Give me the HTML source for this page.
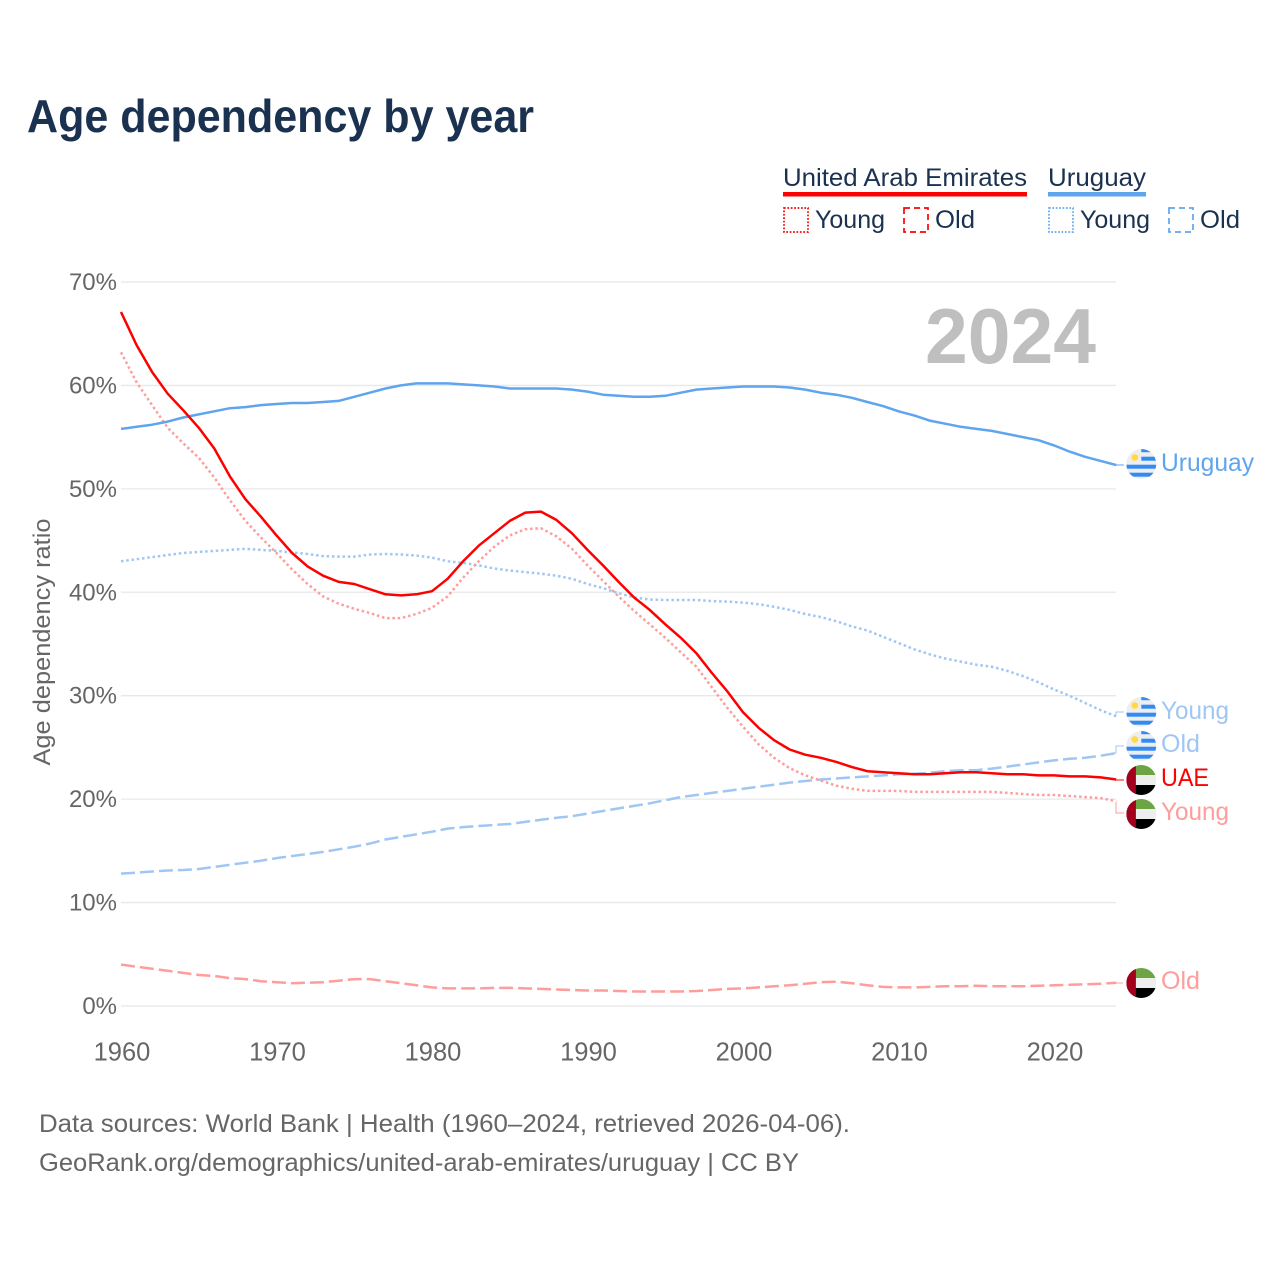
<!DOCTYPE html>
<html lang="en">
<head>
<meta charset="utf-8">
<title>Age dependency by year</title>
<style>
html,body{margin:0;padding:0;background:#fff;width:1280px;height:1280px;overflow:hidden}
svg{display:block;font-family:"Liberation Sans",sans-serif}
.leg{font-size:25px;fill:#1a3150}
.end{font-size:25px}
.cap{font-size:25px;fill:#666}
</style>
</head>
<body>
<svg id="chart" width="1280" height="1280" viewBox="0 0 1280 1280" xmlns="http://www.w3.org/2000/svg">
<defs>
<clipPath id="flag-clip"><circle cx="0" cy="0" r="15"/></clipPath>
<g id="flag-uy">
<g clip-path="url(#flag-clip)">
<rect x="-15" y="-15" width="30" height="30" fill="#eeeeee"/>
<rect x="0" y="-15" width="15" height="3.2" fill="#338af3"/>
<rect x="0" y="-7.3" width="15" height="4" fill="#338af3"/>
<rect x="-15" y="0.7" width="30" height="4" fill="#338af3"/>
<rect x="-15" y="8.7" width="30" height="4" fill="#338af3"/>
<circle cx="-6.5" cy="-6.5" r="3.4" fill="#ffda44"/>
</g>
</g>
<g id="flag-ae">
<g clip-path="url(#flag-clip)">
<rect x="-15" y="-15" width="30" height="10" fill="#6da544"/>
<rect x="-15" y="-5" width="30" height="10" fill="#eeeeee"/>
<rect x="-15" y="5" width="30" height="10" fill="#000000"/>
<rect x="-15" y="-15" width="9.6" height="30" fill="#a2001d"/>
</g>
</g>
</defs>

<text x="27" y="132" font-size="46" font-weight="700" fill="#1a3150" textLength="507" lengthAdjust="spacingAndGlyphs">Age dependency by year</text>

<g>
<text class="leg" x="783" y="186" textLength="244" lengthAdjust="spacingAndGlyphs">United Arab Emirates</text>
<rect x="783" y="192" width="244" height="4.5" fill="#ff0000"/>
<text class="leg" x="1048" y="186" textLength="98" lengthAdjust="spacingAndGlyphs">Uruguay</text>
<rect x="1048" y="192" width="98" height="4.5" fill="#5ea5ee"/>
<rect x="784" y="208" width="24" height="24" fill="none" stroke="#ff0000" stroke-width="1.7" stroke-dasharray="1.7 1.7"/>
<text class="leg" x="815" y="228" textLength="70" lengthAdjust="spacingAndGlyphs">Young</text>
<rect x="904" y="208" width="24" height="24" fill="none" stroke="#ff0000" stroke-width="1.7" stroke-dasharray="6 4"/>
<text class="leg" x="935" y="228" textLength="40" lengthAdjust="spacingAndGlyphs">Old</text>
<rect x="1049" y="208" width="24" height="24" fill="none" stroke="#5ea5ee" stroke-width="1.7" stroke-dasharray="1.7 1.7"/>
<text class="leg" x="1080" y="228" textLength="70" lengthAdjust="spacingAndGlyphs">Young</text>
<rect x="1169" y="208" width="24" height="24" fill="none" stroke="#5ea5ee" stroke-width="1.7" stroke-dasharray="6 4"/>
<text class="leg" x="1200" y="228" textLength="40" lengthAdjust="spacingAndGlyphs">Old</text>
</g>

<g id="grid"></g>
<g id="yticks"></g>
<g id="xticks"></g>

<text x="0" y="0" transform="translate(50,642) rotate(-90)" text-anchor="middle" font-size="24" fill="#666" textLength="247" lengthAdjust="spacingAndGlyphs">Age dependency ratio</text>

<text x="925" y="363" font-size="78" font-weight="700" fill="#bfbfbf" textLength="171" lengthAdjust="spacingAndGlyphs">2024</text>

<g id="series"></g>

<g>
<polyline points="1116,465 1124,465" fill="none" stroke="#5ea5ee" stroke-width="1"/>
<polyline points="1116,716 1116,712 1124,712" fill="none" stroke="#a0c6f3" stroke-width="1"/>
<polyline points="1113,753 1116,753 1116,746 1124,746" fill="none" stroke="#a0c6f3" stroke-width="1"/>
<polyline points="1116,780 1124,780" fill="none" stroke="#ff0000" stroke-width="1"/>
<polyline points="1116,802 1116,813 1124,813" fill="none" stroke="#ff9c9c" stroke-width="1"/>
<polyline points="1116,983 1126,983" fill="none" stroke="#ff9c9c" stroke-width="1" stroke-dasharray="7 3"/>

<use href="#flag-uy" x="1141.3" y="464"/>
<use href="#flag-uy" x="1141.3" y="712"/>
<use href="#flag-uy" x="1141.3" y="746"/>
<use href="#flag-ae" x="1141.3" y="780"/>
<use href="#flag-ae" x="1141.3" y="814"/>
<use href="#flag-ae" x="1141.3" y="983"/>

<text class="end" x="1161" y="471" fill="#5ea5ee" textLength="93" lengthAdjust="spacingAndGlyphs">Uruguay</text>
<text class="end" x="1161" y="719" fill="#a0c6f3" textLength="68" lengthAdjust="spacingAndGlyphs">Young</text>
<text class="end" x="1161" y="752" fill="#a0c6f3" textLength="39" lengthAdjust="spacingAndGlyphs">Old</text>
<text class="end" x="1161" y="786" fill="#ff0000" textLength="48" lengthAdjust="spacingAndGlyphs">UAE</text>
<text class="end" x="1161" y="820" fill="#ff9c9c" textLength="68" lengthAdjust="spacingAndGlyphs">Young</text>
<text class="end" x="1161" y="989" fill="#ff9c9c" textLength="39" lengthAdjust="spacingAndGlyphs">Old</text>
</g>

<text class="cap" x="39" y="1132" textLength="811" lengthAdjust="spacingAndGlyphs">Data sources: World Bank | Health (1960–2024, retrieved 2026-04-06).</text>
<text class="cap" x="39" y="1171" textLength="760" lengthAdjust="spacingAndGlyphs">GeoRank.org/demographics/united-arab-emirates/uruguay | CC BY</text>
</svg>

<script>
const startYear = 1960;
const xTickYears = [1960, 1970, 1980, 1990, 2000, 2010, 2020];
const yTickValues = [0, 10, 20, 30, 40, 50, 60, 70];

const uaeTotal = [
67.1,63.9,61.3,59.2,57.6,55.9,53.9,51.2,49.0,47.3,
45.5,43.8,42.5,41.6,41.0,40.8,40.3,39.8,39.7,39.8,
40.1,41.3,43.0,44.5,45.7,46.9,47.7,47.8,47.0,45.7,
44.1,42.6,41.0,39.5,38.3,36.9,35.6,34.1,32.2,30.4,
28.4,26.9,25.7,24.8,24.3,24.0,23.6,23.1,22.7,22.6,
22.5,22.4,22.4,22.5,22.6,22.6,22.5,22.4,22.4,22.3,
22.3,22.2,22.2,22.1,21.9];
const uaeYoung = [
63.2,60.3,58.1,55.9,54.4,53.0,51.1,48.9,46.9,45.3,
43.8,42.2,40.8,39.6,38.9,38.4,38.0,37.5,37.5,37.9,
38.5,39.6,41.4,43.0,44.4,45.5,46.1,46.2,45.4,44.2,
42.6,41.1,39.6,38.2,36.9,35.6,34.2,32.8,30.8,28.8,
27.0,25.3,24.0,23.0,22.3,21.8,21.3,21.0,20.8,20.8,
20.8,20.7,20.7,20.7,20.7,20.7,20.7,20.6,20.5,20.4,
20.4,20.3,20.2,20.1,19.8];
const uaeOld = [
4.0,3.8,3.6,3.4,3.2,3.0,2.9,2.7,2.6,2.4,
2.3,2.2,2.25,2.3,2.45,2.6,2.6,2.4,2.2,2.0,
1.8,1.7,1.7,1.7,1.75,1.75,1.7,1.65,1.6,1.55,
1.5,1.5,1.45,1.4,1.4,1.4,1.4,1.45,1.55,1.65,
1.7,1.8,1.9,2.0,2.15,2.3,2.35,2.2,2.0,1.85,
1.8,1.8,1.85,1.9,1.9,1.95,1.9,1.9,1.9,1.95,
2.0,2.05,2.1,2.15,2.25];
const uruguayTotal = [
55.8,56.0,56.2,56.5,56.9,57.2,57.5,57.8,57.9,58.1,
58.2,58.3,58.3,58.4,58.5,58.9,59.3,59.7,60.0,60.2,
60.2,60.2,60.1,60.0,59.9,59.7,59.7,59.7,59.7,59.6,
59.4,59.1,59.0,58.9,58.9,59.0,59.3,59.6,59.7,59.8,
59.9,59.9,59.9,59.8,59.6,59.3,59.1,58.8,58.4,58.0,
57.5,57.1,56.6,56.3,56.0,55.8,55.6,55.3,55.0,54.7,
54.2,53.6,53.1,52.7,52.3];
const uruguayYoung = [
43.0,43.2,43.4,43.6,43.8,43.9,44.0,44.1,44.2,44.1,
44.0,43.85,43.7,43.5,43.45,43.45,43.65,43.7,43.65,43.55,
43.35,43.0,42.85,42.6,42.3,42.1,41.95,41.8,41.6,41.3,
40.8,40.4,39.9,39.5,39.3,39.25,39.25,39.25,39.15,39.1,
39.0,38.85,38.6,38.3,37.9,37.6,37.2,36.7,36.3,35.7,
35.1,34.5,34.0,33.6,33.3,33.0,32.8,32.4,31.9,31.3,
30.6,30.0,29.3,28.6,28.0];
const uruguayOld = [
12.8,12.9,13.0,13.1,13.15,13.25,13.45,13.65,13.85,14.05,
14.3,14.5,14.7,14.9,15.15,15.4,15.7,16.1,16.35,16.6,
16.85,17.15,17.3,17.4,17.5,17.6,17.8,18.0,18.2,18.35,
18.6,18.85,19.1,19.35,19.6,19.9,20.2,20.4,20.6,20.8,
21.0,21.2,21.4,21.6,21.75,21.9,22.0,22.1,22.2,22.3,
22.4,22.45,22.55,22.7,22.8,22.8,22.95,23.15,23.35,23.55,
23.75,23.9,24.0,24.2,24.45];

const NS = 'http://www.w3.org/2000/svg';
function xScale(year) { return 121 + (year - 1960) * 15.55; }
function yScale(value) { return 1006 - value * 10.343; }
function pathFrom(values) {
  return values.map(function (v, i) {
    return (i ? 'L' : 'M') + xScale(startYear + i).toFixed(1) + ' ' + yScale(v).toFixed(1);
  }).join(' ');
}

const gridGroup = document.getElementById('grid');
const yGroup = document.getElementById('yticks');
yTickValues.forEach(function (v) {
  const line = document.createElementNS(NS, 'line');
  
  
  line.setAttribute('x1', 121);
  line.setAttribute('x2', 1116);
  line.setAttribute('y1', yScale(v));
  line.setAttribute('y2', yScale(v));
  line.setAttribute('stroke', '#e8e8e8');
  line.setAttribute('stroke-width', '1.3');
  gridGroup.appendChild(line);
  const t = document.createElementNS(NS, 'text');
  
  
  t.setAttribute('x', 117);
  t.setAttribute('y', yScale(v) + 8);
  t.setAttribute('text-anchor', 'end');
  t.setAttribute('font-size', '24');
  t.setAttribute('fill', '#666');
  t.textContent = v + '%';
  yGroup.appendChild(t);
});

const xGroup = document.getElementById('xticks');
xTickYears.forEach(function (year) {
  const t = document.createElementNS(NS, 'text');
  
  
  t.setAttribute('x', xScale(year) + 1);
  t.setAttribute('y', 1060.5);
  t.setAttribute('text-anchor', 'middle');
  t.setAttribute('font-size', '25.5');
  t.setAttribute('fill', '#666');
  t.textContent = year;
  xGroup.appendChild(t);
});

const seriesGroup = document.getElementById('series');
function drawSeries(name, values, color, dash) {
  const p = document.createElementNS(NS, 'path');
  
  
  p.setAttribute('d', pathFrom(values));
  p.setAttribute('fill', 'none');
  p.setAttribute('stroke', color);
  p.setAttribute('stroke-width', '2.5');
  p.setAttribute('stroke-linejoin', 'round');
  if (dash) { p.setAttribute('stroke-dasharray', dash); }
  seriesGroup.appendChild(p);
}
drawSeries('uruguay-old-line', uruguayOld, '#a0c6f3', '14 5');
drawSeries('uruguay-young-line', uruguayYoung, '#a0c6f3', '2.5 2.8');
drawSeries('uae-old-line', uaeOld, '#ff9c9c', '14 5');
drawSeries('uae-young-line', uaeYoung, '#ff9c9c', '2.5 2.8');
drawSeries('uruguay-total-line', uruguayTotal, '#5ea5ee', '');
drawSeries('uae-total-line', uaeTotal, '#ff0000', '');
</script>
</body>
</html>
